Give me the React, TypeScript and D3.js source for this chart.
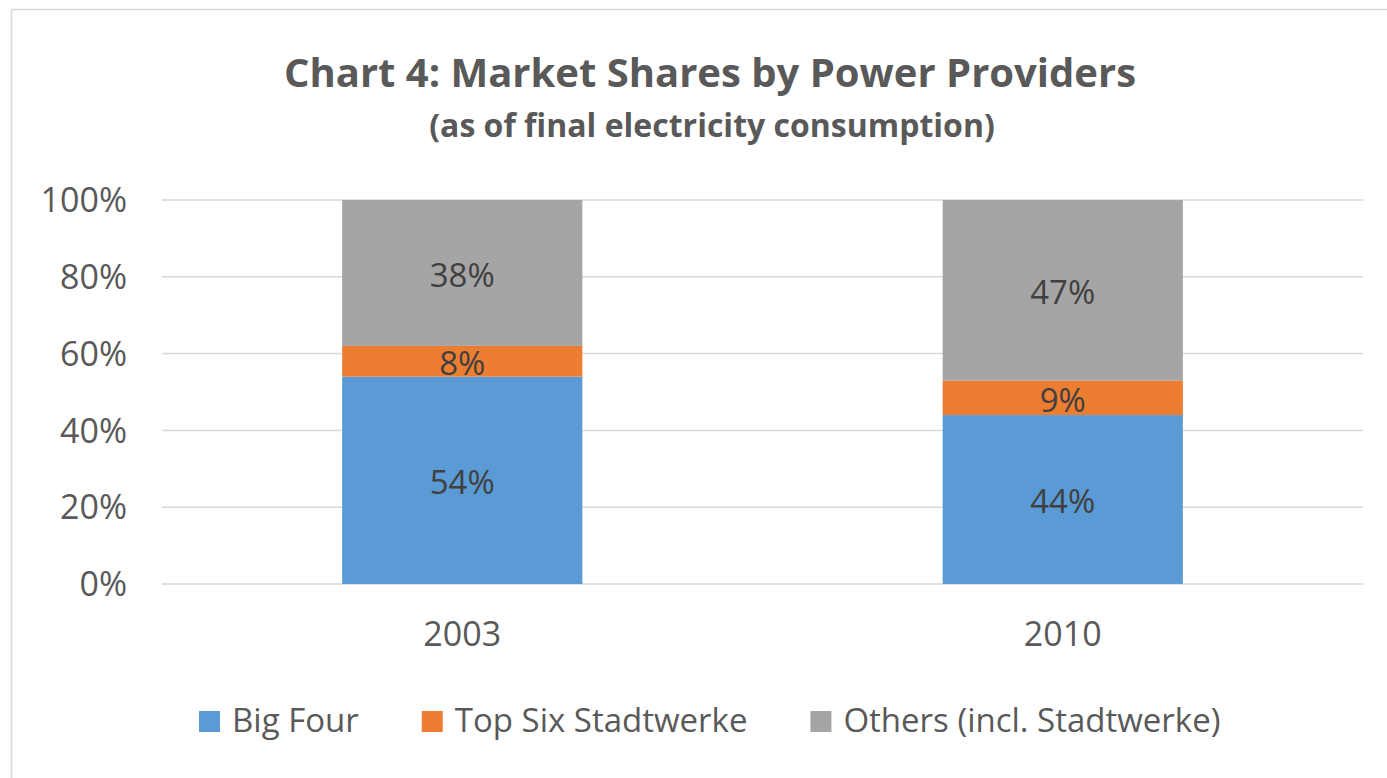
import React, { useEffect, useRef } from 'react';
import * as d3 from 'd3';

const years = ['2003', '2010'];
const seriesNames = ['Big Four', 'Top Six Stadtwerke', 'Others (incl. Stadtwerke)'];
const bigFour = [54, 44];
const topSix = [8, 9];
const others = [38, 47];
const yTicks = [0, 20, 40, 60, 80, 100];
const colors = ['#5B9BD5', '#ED7D31', '#A5A5A5'];

export default function App() {
    const ref = useRef<SVGSVGElement>(null);

    useEffect(() => {
        const width = 1387;
        const height = 778;
        const margin = { top: 200, right: 24, bottom: 194, left: 162 };
        const font = "'Open Sans', sans-serif";

        const svg = d3.select(ref.current);
        svg.selectAll('*').remove();
        svg.attr('width', width).attr('height', height);

        svg.append('rect')
            .attr('width', width).attr('height', height).attr('fill', 'white');
        // chart border (runs off the right and bottom edges)
        svg.append('rect')
            .attr('x', 11.5).attr('y', 9.5)
            .attr('width', width + 20).attr('height', height + 20)
            .attr('fill', 'none').attr('stroke', '#D9D9D9').attr('stroke-width', 1.5);

        const rows = years.map((y, i) => ({
            year: y,
            [seriesNames[0]]: bigFour[i],
            [seriesNames[1]]: topSix[i],
            [seriesNames[2]]: others[i],
        }));
        const stacked = d3.stack<any>().keys(seriesNames)(rows);

        const x = d3.scaleBand()
            .domain(years)
            .range([margin.left, width - margin.right])
            .paddingInner(0.6).paddingOuter(0.3);
        const y = d3.scaleLinear().domain([0, 100]).range([height - margin.bottom, margin.top]);
        const color = d3.scaleOrdinal<string>().domain(seriesNames).range(colors);

        // gridlines
        svg.append('g').selectAll('line').data(yTicks).enter().append('line')
            .attr('x1', margin.left).attr('x2', width - margin.right)
            .attr('y1', d => y(d)).attr('y2', d => y(d))
            .attr('stroke', '#D9D9D9').attr('stroke-width', 1.5);

        // y labels
        svg.append('g').selectAll('text').data(yTicks).enter().append('text')
            .attr('x', 127).attr('y', d => y(d)).attr('dy', '0.36em')
            .attr('text-anchor', 'end')
            .style('font-family', font).style('font-size', '34px').attr('fill', '#595959')
            .text(d => d + '%');

        // bars
        const layers = svg.append('g').selectAll('g').data(stacked).enter().append('g')
            .attr('fill', d => color(d.key));
        layers.selectAll('rect').data(d => d).enter().append('rect')
            .attr('x', (d: any) => x(d.data.year)!)
            .attr('width', x.bandwidth())
            .attr('y', d => y(d[1]))
            .attr('height', d => y(d[0]) - y(d[1]));

        // data labels
        layers.selectAll('text').data(d => d).enter().append('text')
            .attr('x', (d: any) => x(d.data.year)! + x.bandwidth() / 2)
            .attr('y', d => (y(d[0]) + y(d[1])) / 2)
            .attr('dy', '0.42em')
            .attr('text-anchor', 'middle')
            .style('font-family', font).style('font-size', '33px').attr('fill', '#404040')
            .text(d => Math.round(d[1] - d[0]) + '%');

        // x labels
        svg.append('g').selectAll('text').data(years).enter().append('text')
            .attr('x', d => x(d)! + x.bandwidth() / 2).attr('y', 646)
            .attr('text-anchor', 'middle')
            .style('font-family', font).style('font-size', '34px').attr('fill', '#595959')
            .text(d => d);

        // title
        svg.append('text')
            .attr('x', 710).attr('y', 87).attr('text-anchor', 'middle')
            .style('font-family', font).style('font-size', '40px').style('font-weight', 'bold')
            .attr('fill', '#595959')
            .text('Chart 4: Market Shares by Power Providers');
        svg.append('text')
            .attr('x', 712).attr('y', 137).attr('text-anchor', 'middle')
            .style('font-family', font).style('font-size', '32px').style('font-weight', 'bold')
            .attr('fill', '#595959')
            .text('(as of final electricity consumption)');

        // legend
        const legend = svg.append('g');
        let lx = 199;
        seriesNames.forEach(name => {
            legend.append('rect')
                .attr('x', lx).attr('y', 711).attr('width', 21).attr('height', 21)
                .attr('fill', color(name));
            const t = legend.append('text')
                .attr('x', lx + 33).attr('y', 732)
                .style('font-family', font).style('font-size', '33px').attr('fill', '#595959')
                .text(name);
            const w = (t.node() as SVGTextElement).getComputedTextLength();
            lx += 33 + w + 63;
        });
    }, []);

    return (
        <div style={{ position: 'absolute', left: 0, top: 0 }}>
            <svg ref={ref} style={{ display: 'block' }}></svg>
        </div>
    );
}
